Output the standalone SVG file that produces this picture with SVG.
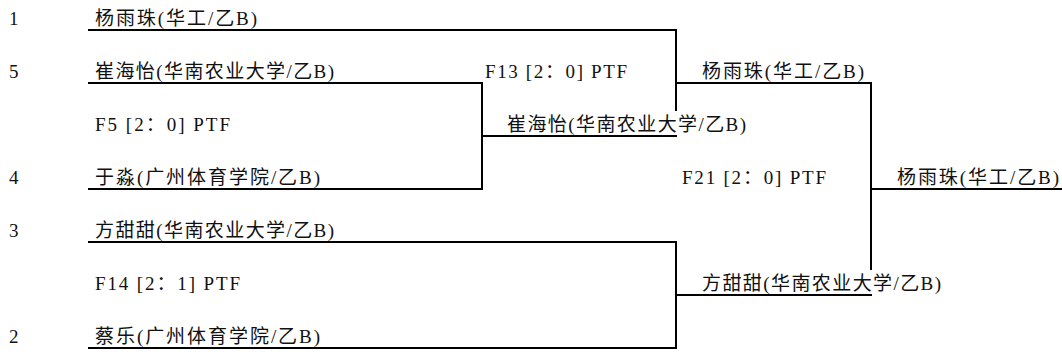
<svg xmlns="http://www.w3.org/2000/svg" width="1062" height="354" viewBox="0 0 1062 354">
<style>
text{font-family:"Liberation Serif","Noto Sans CJK SC",serif;font-size:19px;fill:#111}
.ln{stroke:#000;stroke-width:2;fill:none;stroke-linecap:square}
</style>
<rect width="1062" height="354" fill="#fff"/>
<g id="connectors">
<path class="ln" d="M89 30H676M89 83H482M89 189H482M89 242H676M89 348H676"/>
<path class="ln" d="M482 83V189M482 136H676"/>
<path class="ln" d="M676 30V110M676 83H871"/>
<path class="ln" d="M676 242V348M676 295H871"/>
<path class="ln" d="M871 83V269M871 189H1062"/>
</g>
<g id="seed1"><text x="9" y="25">1</text><text x="95" y="25" textLength="162" lengthAdjust="spacing">杨雨珠(华工/乙B)</text></g>
<g id="seed5"><text x="9" y="78">5</text><text x="95" y="78" textLength="239" lengthAdjust="spacing">崔海怡(华南农业大学/乙B)</text></g>
<g id="match-F5"><text x="95" y="131" textLength="135" lengthAdjust="spacing">F5 [2：0] PTF</text></g>
<g id="seed4"><text x="9" y="184">4</text><text x="95" y="184" textLength="225" lengthAdjust="spacing">于淼(广州体育学院/乙B)</text></g>
<g id="seed3"><text x="9" y="237">3</text><text x="95" y="237" textLength="239" lengthAdjust="spacing">方甜甜(华南农业大学/乙B)</text></g>
<g id="match-F14"><text x="95" y="290" textLength="145" lengthAdjust="spacing">F14 [2：1] PTF</text></g>
<g id="seed2"><text x="9" y="343">2</text><text x="95" y="343" textLength="225" lengthAdjust="spacing">蔡乐(广州体育学院/乙B)</text></g>
<g id="match-F13"><text x="485" y="78" textLength="142" lengthAdjust="spacing">F13 [2：0] PTF</text></g>
<g id="winner-F5"><text x="507" y="131" textLength="239" lengthAdjust="spacing">崔海怡(华南农业大学/乙B)</text></g>
<g id="winner-F13"><text x="702" y="78" textLength="162" lengthAdjust="spacing">杨雨珠(华工/乙B)</text></g>
<g id="match-F21"><text x="682" y="184" textLength="144" lengthAdjust="spacing">F21 [2：0] PTF</text></g>
<g id="winner-F14"><text x="702" y="290" textLength="239" lengthAdjust="spacing">方甜甜(华南农业大学/乙B)</text></g>
<g id="winner-F21"><text x="897" y="184" textLength="162" lengthAdjust="spacing">杨雨珠(华工/乙B)</text></g>
</svg>
